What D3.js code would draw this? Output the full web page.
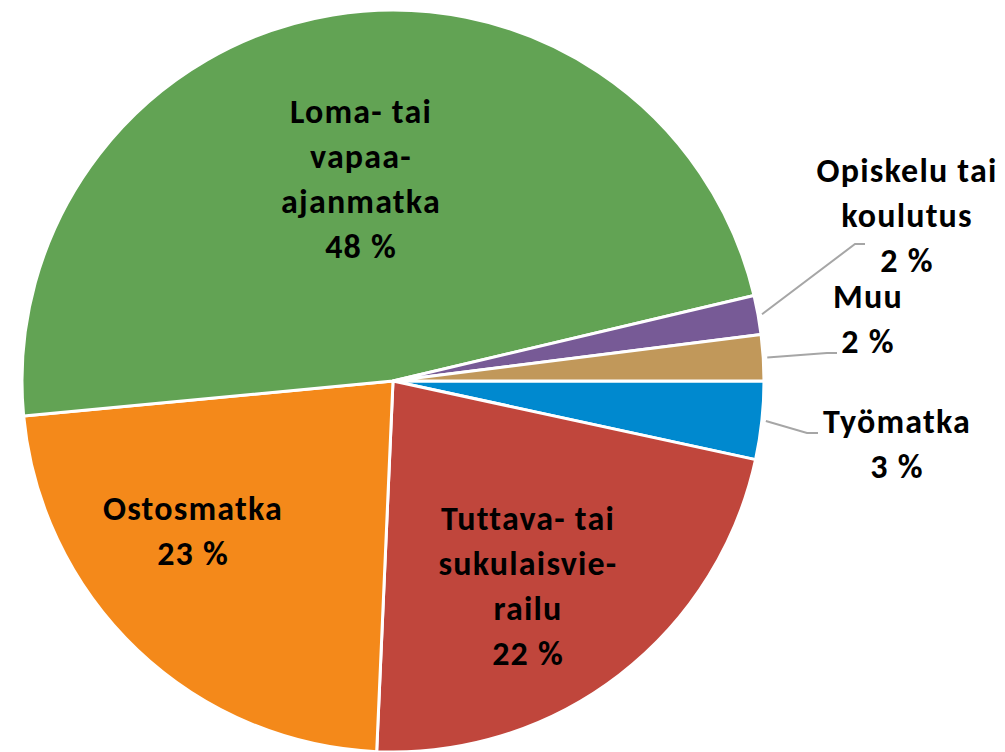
<!DOCTYPE html>
<html>
<head>
<meta charset="utf-8">
<script src="https://cdn.jsdelivr.net/npm/d3@7"></script>
<style>
  html, body { margin: 0; padding: 0; background: #fff; }
  svg { display: block; }
  .lbl { font-family: Carlito, Calibri, Lato, sans-serif; font-weight: bold; font-size: 34px; letter-spacing: 1.2px; fill: #000; }
</style>
</head>
<body>
<div class="svg"></div>
<script>
//Data
var categories = ["Työmatka", "Tuttava- tai sukulaisvierailu", "Ostosmatka", "Loma- tai vapaa-ajanmatka", "Opiskelu tai koulutus", "Muu"];
var shares = [3.4, 22.3, 22.8, 47.8, 1.7, 2.0];
var labelLines = [
  ["Työmatka"],
  ["Tuttava- tai", "sukulaisvie-", "railu"],
  ["Ostosmatka"],
  ["Loma- tai", "vapaa-", "ajanmatka"],
  ["Opiskelu tai", "koulutus"],
  ["Muu"]
];
var colors = ["#0089CF", "#C0463C", "#F4891A", "#62A354", "#775A96", "#C1985A"];

//Config
var width = 1005,
    height = 752,
    cx = 393,
    cy = 381,
    radius = 371,
    lineStep = 45;

// label anchor (centre x, first baseline y) and leader elbows, by slice index
var labelPos = [
  { x: 897, y: 433, leader: [[807, 433], [818, 433]] },
  { x: 528, y: 530 },
  { x: 193, y: 520 },
  { x: 361, y: 123 },
  { x: 907, y: 182, leader: [[855, 244], [865, 244]] },
  { x: 868, y: 308, leader: [[827, 353], [837, 353]] }
];

var fmt = d3.format(".0f");

var svg = d3.select(".svg")
    .append("svg")
    .attr("width", width)
    .attr("height", height);

var pie = d3.pie()
    .sort(null)
    .value(function (d) { return d; })
    .startAngle(Math.PI / 2)
    .endAngle(Math.PI / 2 + 2 * Math.PI);

var arc = d3.arc()
    .innerRadius(0)
    .outerRadius(radius);

var arcs = pie(shares);

var g = svg.append("g")
    .attr("transform", "translate(" + cx + "," + cy + ")");

g.selectAll(".slice")
  .data(arcs)
  .enter()
  .append("path")
  .classed("slice", true)
  .attr("d", arc)
  .style("fill", function (d, i) { return colors[i]; })
  .style("stroke", "#fff")
  .style("stroke-width", "3px")
  .style("stroke-linejoin", "round");

//Leader lines
var leaders = arcs.map(function (d, i) { return { arc: d, pos: labelPos[i] }; })
  .filter(function (d) { return d.pos.leader; });

svg.selectAll(".leader")
  .data(leaders)
  .enter()
  .append("polyline")
  .classed("leader", true)
  .attr("points", function (d) {
    var a = (d.arc.startAngle + d.arc.endAngle) / 2;
    var r = radius + 4;
    var pts = [[cx + Math.sin(a) * r, cy - Math.cos(a) * r]].concat(d.pos.leader);
    return pts.map(function (p) { return p.join(","); }).join(" ");
  })
  .style("fill", "none")
  .style("stroke", "#A6A6A6")
  .style("stroke-width", "2px");

//Labels
var labels = svg.selectAll(".lbl")
  .data(arcs)
  .enter()
  .append("text")
  .classed("lbl", true)
  .attr("text-anchor", "middle");

labels.each(function (d, i) {
  var t = d3.select(this);
  var lines = labelLines[i].concat([fmt(shares[i]) + " %"]);
  lines.forEach(function (s, k) {
    t.append("tspan")
      .attr("x", labelPos[i].x)
      .attr("y", labelPos[i].y + k * lineStep)
      .text(s);
  });
});
</script>
</body>
</html>
